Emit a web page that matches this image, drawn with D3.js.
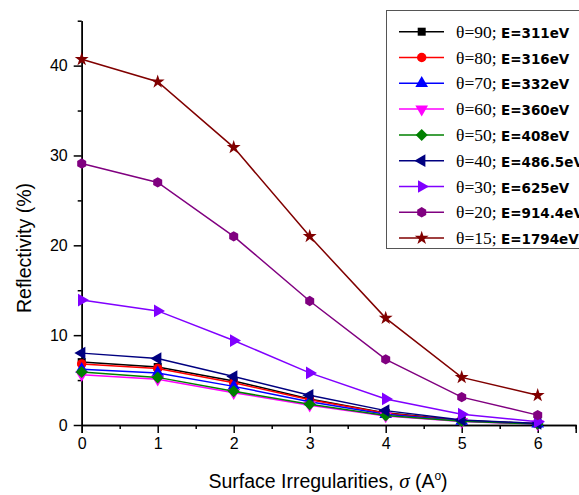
<!DOCTYPE html>
<html lang="en">
<head>
  <meta charset="utf-8">
  <title>Reflectivity vs Surface Irregularities</title>
  <script src="https://d3js.org/d3.v7.min.js"></script>
  <style>
    body {
      margin: 0;
      padding: 0;
      background-color: #fff;
      overflow: hidden;
    }
    .axis text {
      font-family: "Liberation Sans", Arial, sans-serif;
      font-size: 16px;
      fill: #000;
    }
    .axis path, .axis line {
      stroke: #000;
      stroke-width: 1.5;
    }
  </style>
</head>
<body>
  <svg id="chart" width="579" height="495"></svg>

  <script>
    const width = 579;
    const height = 495;

    // data
    const sigma = [0, 1, 2, 3, 4, 5, 6];
    const thetas = ["90", "80", "70", "60", "50", "40", "30", "20", "15"];
    const energies = ["311eV", "316eV", "332eV", "360eV", "408eV", "486.5eV", "625eV", "914.4eV", "1794eV"];
    const r90 = [7.0, 6.45, 4.9, 2.9, 1.35, 0.5, 0.15];
    const r80 = [6.8, 6.3, 4.7, 2.8, 1.3, 0.48, 0.14];
    const r70 = [6.2, 5.8, 4.3, 2.6, 1.2, 0.44, 0.12];
    const r60 = [5.6, 5.1, 3.6, 2.2, 1.0, 0.38, 0.1];
    const r50 = [5.9, 5.3, 3.75, 2.3, 1.05, 0.42, 0.11];
    const r40 = [8.0, 7.4, 5.4, 3.3, 1.6, 0.56, 0.17];
    const r30 = [13.9, 12.7, 9.4, 5.8, 2.9, 1.2, 0.35];
    const r20 = [29.1, 27.0, 21.0, 13.8, 7.3, 3.1, 1.1];
    const r15 = [40.7, 38.2, 30.9, 21.0, 11.9, 5.3, 3.3];

    const seriesValues = [r90, r80, r70, r60, r50, r40, r30, r20, r15];
    const colors = ["#000000", "#ff0000", "#0000ff", "#ff00ff", "#008000", "#000080", "#8000ff", "#800080", "#800000"];
    const markers = ["square", "circle", "up", "down", "diamond", "left", "right", "hexagon", "star"];

    const svg = d3.select("#chart");

    const x = d3.scaleLinear().domain([0, 6.5]).range([81.7, 575.7]);
    const y = d3.scaleLinear().domain([0, 45]).range([425, 20.7]);

    // axes
    svg.append("g")
      .attr("class", "axis")
      .attr("transform", `translate(0,${y(0)})`)
      .call(d3.axisBottom(x).tickValues(d3.range(0, 7, 1)).tickFormat(d3.format("d")).tickSize(8).tickPadding(5));
    svg.append("g")
      .attr("class", "axis")
      .attr("transform", `translate(0,${y(0)})`)
      .call(d3.axisBottom(x).tickValues(d3.range(0.5, 7, 1)).tickFormat("").tickSize(4).tickSizeOuter(0));

    svg.append("g")
      .attr("class", "axis")
      .attr("transform", `translate(${x(0)},0)`)
      .call(d3.axisLeft(y).tickValues([0, 10, 20, 30, 40]).tickSize(8).tickPadding(6).tickSizeOuter(0));
    svg.append("g")
      .attr("class", "axis")
      .attr("transform", `translate(${x(0)},0)`)
      .call(d3.axisLeft(y).tickValues([5, 15, 25, 35, 45]).tickFormat("").tickSize(4).tickSizeOuter(0));

    // axis titles
    svg.append("text")
      .attr("transform", "translate(31,248) rotate(-90)")
      .attr("text-anchor", "middle")
      .attr("font-family", "Liberation Sans, Arial, sans-serif")
      .attr("font-size", 19.5)
      .text("Reflectivity (%)");

    const xt = svg.append("text")
      .attr("x", 328)
      .attr("y", 488)
      .attr("text-anchor", "middle")
      .attr("font-family", "Liberation Sans, Arial, sans-serif")
      .attr("font-size", 19.5);
    xt.append("tspan").text("Surface Irregularities, ");
    xt.append("tspan").attr("font-style", "italic").attr("font-family", "Liberation Serif, serif").attr("font-size", 21).text("\u03c3");
    xt.append("tspan").text(" (A");
    xt.append("tspan").attr("font-size", 12).attr("dy", -8).text("o");
    xt.append("tspan").attr("dy", 8).text(")");

    // marker shapes
    function polyPath(n, r, start) {
      const pts = d3.range(n).map(i => {
        const a = start + i * 2 * Math.PI / n;
        return [r * Math.cos(a), r * Math.sin(a)];
      });
      return "M" + pts.map(p => p.join(",")).join("L") + "Z";
    }

    function markerPath(kind) {
      switch (kind) {
        case "square": return d3.symbol(d3.symbolSquare, 64)();
        case "circle": return d3.symbol(d3.symbolCircle, 70)();
        case "up": case "down": case "left": case "right":
          return d3.symbol(d3.symbolTriangle, 70)();
        case "diamond": return polyPath(4, 6, -Math.PI / 2);
        case "hexagon": return polyPath(6, 5.2, Math.PI / 6);
        case "star": return d3.symbol(d3.symbolStar, 60)();
      }
    }

    function markerRotate(kind) {
      if (kind === "down") return 180;
      if (kind === "left") return -90;
      if (kind === "right") return 90;
      return 0;
    }

    const line = d3.line()
      .x((d, i) => x(sigma[i]))
      .y(d => y(d));

    // series
    seriesValues.forEach((vals, k) => {
      const g = svg.append("g");
      g.append("path")
        .attr("d", line(vals))
        .attr("fill", "none")
        .attr("stroke", colors[k])
        .attr("stroke-width", 1.5);
      g.selectAll("path.marker")
        .data(vals)
        .join("path")
        .attr("class", "marker")
        .attr("d", markerPath(markers[k]))
        .attr("transform", (d, i) => `translate(${x(sigma[i])},${y(d)}) rotate(${markerRotate(markers[k])})`)
        .attr("fill", colors[k]);
    });

    // legend
    const legend = svg.append("g");
    legend.append("rect")
      .attr("x", 386.5)
      .attr("y", 10.5)
      .attr("width", 220)
      .attr("height", 238)
      .attr("fill", "#fff")
      .attr("stroke", "#555")
      .attr("stroke-width", 1);

    thetas.forEach((t, k) => {
      const cy = 31.7 + k * 25.8;
      legend.append("line")
        .attr("x1", 399).attr("x2", 444)
        .attr("y1", cy).attr("y2", cy)
        .attr("stroke", colors[k])
        .attr("stroke-width", 1.5);
      legend.append("path")
        .attr("d", markerPath(markers[k]))
        .attr("transform", `translate(421.7,${cy}) rotate(${markerRotate(markers[k])})`)
        .attr("fill", colors[k]);
      const txt = legend.append("text")
        .attr("x", 456)
        .attr("y", cy + 6);
      txt.append("tspan")
        .attr("font-family", "Liberation Serif, serif")
        .attr("font-size", 17.5)
        .text(`\u03b8=${t}; `);
      txt.append("tspan")
        .attr("font-family", "DejaVu Sans, sans-serif")
        .attr("font-weight", "bold")
        .attr("font-size", 13.5)
        .text(`E=${energies[k]}`);
    });
  </script>
</body>
</html>
